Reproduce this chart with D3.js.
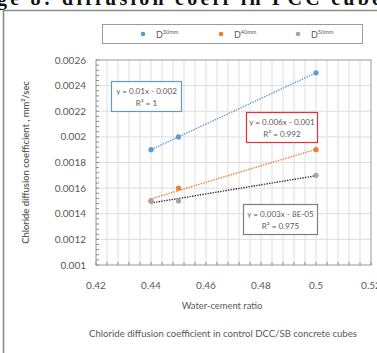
<!DOCTYPE html>
<html>
<head>
<meta charset="utf-8">
<script src="https://cdn.jsdelivr.net/npm/d3@7"></script>
<style>
  body { margin: 0; background: #fff; }
  svg { display: block; font-family: Lato, "Liberation Sans", sans-serif; }
  .tick-label { fill: #595959; font-size: 10px; }
  .note { fill: #595959; }
</style>
</head>
<body>
<div id="chart"></div>
<script>
// water-cement ratios and diffusion coefficients (mm²/sec)
const ratios = [0.44, 0.45, 0.5];
const d30 = [0.0019, 0.0020, 0.0025];
const d40 = [0.0015, 0.0016, 0.0019];
const d50 = [0.0015, 0.0015, 0.0017];
const seriesNames = ["30mm", "40mm", "50mm"];
const xTicks = [0.42, 0.44, 0.46, 0.48, 0.5, 0.52];
const yTicks = [0.001, 0.0012, 0.0014, 0.0016, 0.0018, 0.002, 0.0022, 0.0024, 0.0026];
const fitLabels = [
  ["y = 0.01x - 0.002", "R² = 1"],
  ["y = 0.006x - 0.001", "R² = 0.992"],
  ["y = 0.003x - 8E-05", "R² = 0.975"]
];

const width = 377;
const height = 353;
const plot = { left: 96, right: 371, top: 60, bottom: 265 };

const svg = d3.select("#chart")
  .append("svg")
  .attr("width", width)
  .attr("height", height);

// heading of the page above the figure, mostly cut off
svg.append("text")
  .attr("x", -3)
  .attr("y", 5)
  .attr("font-family", "'Liberation Serif', serif")
  .attr("font-weight", "bold")
  .attr("font-size", 20)
  .attr("fill", "#111")
  .attr("textLength", 395)
  .text("ge 8: diffusion coeff in PCC cubes");

// figure frame
svg.append("path")
  .attr("d", `M3.5,${height + 2} V10.5 H${width + 2}`)
  .attr("fill", "none")
  .attr("stroke", "#8a8a8a")
  .attr("stroke-width", 1.6);

const x = d3.scaleLinear().domain([0.42, 0.52]).range([plot.left, plot.right]);
const y = d3.scaleLinear().domain([0.001, 0.0026]).range([plot.bottom, plot.top]);

// grid: vertical every 0.004, horizontal on major ticks
const g = svg.append("g");
g.selectAll(".vgrid")
  .data(d3.range(1, 25).map(i => 0.42 + i * 0.004))
  .join("line")
  .attr("x1", d => x(d)).attr("x2", d => x(d))
  .attr("y1", plot.top).attr("y2", plot.bottom)
  .attr("stroke", "#dedede")
  .attr("stroke-width", 1);

g.selectAll(".hgrid")
  .data(yTicks.slice(1, -1))
  .join("line")
  .attr("x1", plot.left).attr("x2", plot.right)
  .attr("y1", d => y(d)).attr("y2", d => y(d))
  .attr("stroke", "#dedede")
  .attr("stroke-width", 1);

// plot border
g.append("rect")
  .attr("x", plot.left).attr("y", plot.top)
  .attr("width", plot.right - plot.left)
  .attr("height", plot.bottom - plot.top)
  .attr("fill", "none")
  .attr("stroke", "#9a9a9a")
  .attr("stroke-width", 1);

// minor tick marks inside the axes
g.selectAll(".ytick")
  .data(d3.range(0, 41).map(i => 0.001 + i * 0.00004))
  .join("line")
  .attr("x1", plot.left).attr("x2", plot.left + 3)
  .attr("y1", d => y(d)).attr("y2", d => y(d))
  .attr("stroke", "#8a8a8a");

g.selectAll(".xtick")
  .data(d3.range(0, 26).map(i => 0.42 + i * 0.004))
  .join("line")
  .attr("x1", d => x(d)).attr("x2", d => x(d))
  .attr("y1", plot.bottom).attr("y2", plot.bottom - 3)
  .attr("stroke", "#8a8a8a");

// tick labels
svg.append("g")
  .selectAll("text")
  .data(yTicks)
  .join("text")
  .attr("class", "tick-label")
  .attr("x", 86)
  .attr("y", d => y(d) + 3.5)
  .attr("text-anchor", "end")
  .text(d => d);

svg.append("g")
  .selectAll("text")
  .data(xTicks)
  .join("text")
  .attr("class", "tick-label")
  .attr("x", d => x(d))
  .attr("y", 289)
  .attr("text-anchor", "middle")
  .text(d => d);

// axis titles and caption
svg.append("text")
  .attr("class", "note")
  .attr("transform", `translate(29,${(plot.top + plot.bottom) / 2}) rotate(-90)`)
  .attr("text-anchor", "middle")
  .style("font-size", "9.4px")
  .style("font-weight", 600)
  .text("Chloride diffusion coefficient , mm²/sec");

svg.append("text")
  .attr("class", "note")
  .attr("x", 222)
  .attr("y", 309)
  .attr("text-anchor", "middle")
  .style("font-size", "9.4px")
  .text("Water-cement ratio");

svg.append("text")
  .attr("class", "note")
  .attr("x", 223)
  .attr("y", 337)
  .attr("text-anchor", "middle")
  .style("font-size", "9.6px")
  .text("Chloride diffusion coefficient in control DCC/SB concrete cubes");

// series
const series = [
  { name: seriesNames[0], values: d30, color: "#5b9bd5", trend: "#5b9bd5", box: "#5b9bd5" },
  { name: seriesNames[1], values: d40, color: "#ed7d31", trend: "#ed7d31", box: "#e0323c" },
  { name: seriesNames[2], values: d50, color: "#a5a5a5", trend: "#333333", box: "#7f7f7f" }
];

// least-squares trendline between first and last point
function fit(xs, ys) {
  const mx = d3.mean(xs), my = d3.mean(ys);
  const sxy = d3.sum(xs, (v, i) => (v - mx) * (ys[i] - my));
  const sxx = d3.sum(xs, v => (v - mx) * (v - mx));
  const slope = sxy / sxx;
  return v => my + slope * (v - mx);
}

series.forEach(s => {
  const f = fit(ratios, s.values);
  const x0 = d3.min(ratios), x1 = d3.max(ratios);
  svg.append("line")
    .attr("x1", x(x0)).attr("y1", y(f(x0)))
    .attr("x2", x(x1)).attr("y2", y(f(x1)))
    .attr("stroke", s.trend)
    .attr("stroke-width", 1.4)
    .attr("stroke-dasharray", "1.4,1.2");
});

series.forEach(s => {
  svg.append("g")
    .selectAll("circle")
    .data(s.values)
    .join("circle")
    .attr("cx", (d, i) => x(ratios[i]))
    .attr("cy", d => y(d))
    .attr("r", 2.6)
    .attr("fill", s.color);
});

// trendline equation boxes
const boxes = [
  { x: 111, y: 81, w: 70, h: 30 },
  { x: 246, y: 112, w: 71, h: 30 },
  { x: 243, y: 204, w: 74, h: 30 }
];
boxes.forEach((b, i) => {
  svg.append("rect")
    .attr("x", b.x + 0.5).attr("y", b.y + 0.5)
    .attr("width", b.w).attr("height", b.h)
    .attr("fill", "#fff")
    .attr("stroke", series[i].box)
    .attr("stroke-width", 1.2);
  svg.append("text")
    .attr("class", "note")
    .attr("x", b.x + b.w / 2 + 0.5)
    .attr("y", b.y + 12.5)
    .attr("text-anchor", "middle")
    .style("font-size", "8.1px")
    .text(fitLabels[i][0]);
  svg.append("text")
    .attr("class", "note")
    .attr("x", b.x + b.w / 2 + 0.5)
    .attr("y", b.y + 24.5)
    .attr("text-anchor", "middle")
    .style("font-size", "8.1px")
    .text(fitLabels[i][1]);
});

// legend
svg.append("rect")
  .attr("x", 102.5).attr("y", 24.5)
  .attr("width", 260).attr("height", 19)
  .attr("fill", "#fff")
  .attr("stroke", "#9a9a9a");

const legendX = [143, 221, 298];
series.forEach((s, i) => {
  svg.append("circle")
    .attr("cx", legendX[i]).attr("cy", 34)
    .attr("r", 2.3)
    .attr("fill", s.color);
  const t = svg.append("text")
    .attr("class", "note")
    .attr("x", legendX[i] + 13)
    .attr("y", 38)
    .style("font-size", "9px");
  t.append("tspan").text("D");
  t.append("tspan")
    .style("font-size", "5.5px")
    .attr("dy", -4)
    .text(s.name);
});
</script>
</body>
</html>
